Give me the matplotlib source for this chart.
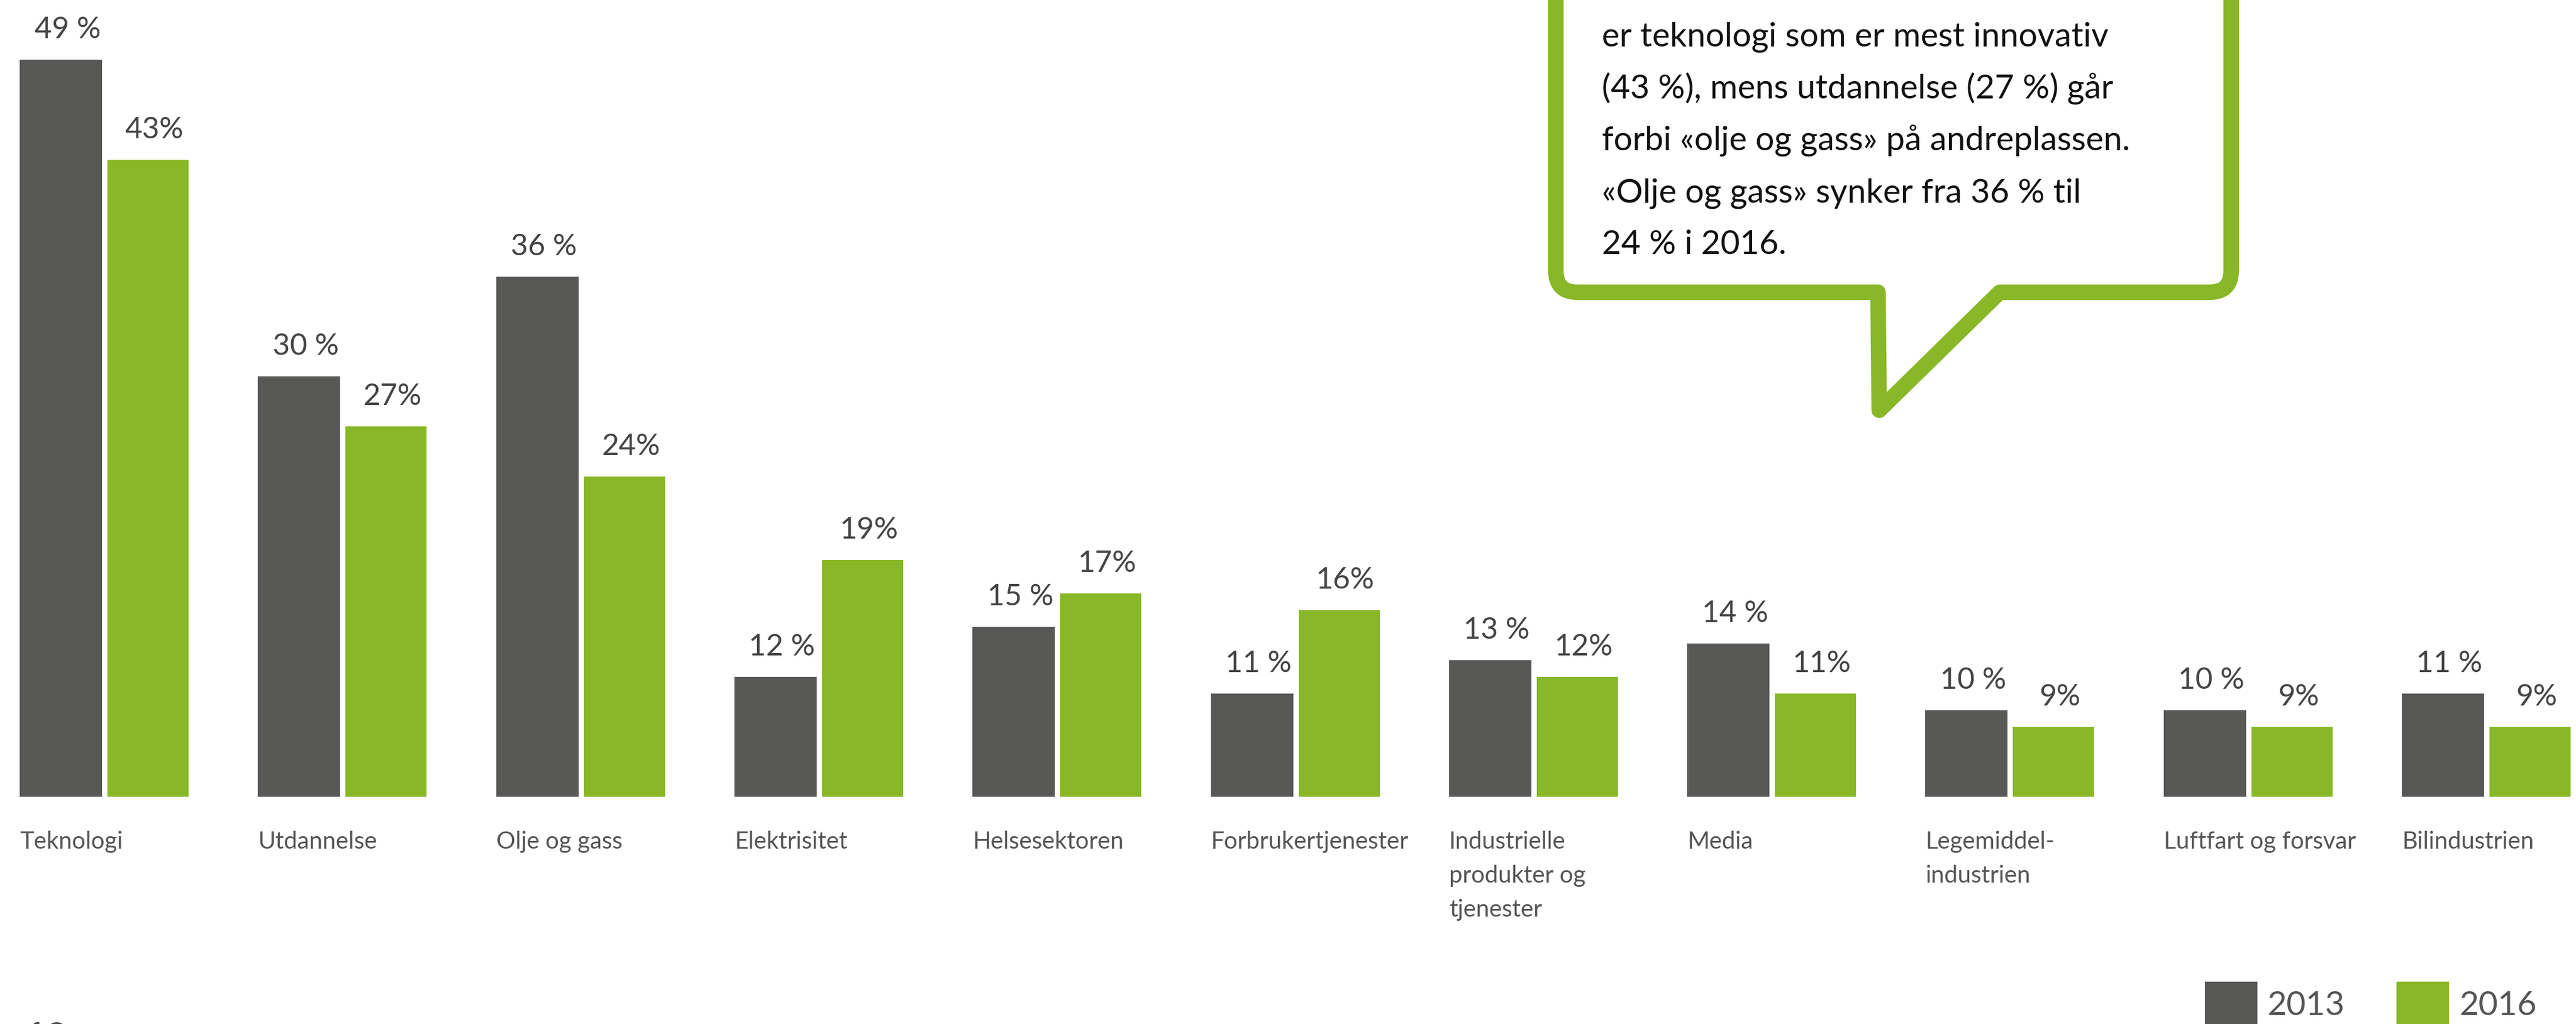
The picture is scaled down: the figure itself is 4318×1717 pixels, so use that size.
import matplotlib
matplotlib.use("Agg")
import matplotlib.pyplot as plt
import numpy as np
from matplotlib.path import Path
from matplotlib.patches import PathPatch
from matplotlib.transforms import offset_copy

# ---------------- data ----------------
categories = ["Teknologi", "Utdannelse", "Olje og gass", "Elektrisitet", "Helsesektoren",
              "Forbrukertjenester", "Industrielle\nprodukter og\ntjenester", "Media",
              "Legemiddel-\nindustrien", "Luftfart og forsvar", "Bilindustrien"]
values_2013 = [49, 30, 36, 12, 15, 11, 13, 14, 10, 10, 11]
values_2016 = [43, 27, 24, 19, 17, 16, 12, 11, 9, 9, 9]
series_labels = ["2013", "2016"]
callout_lines = [
    "er teknologi som er mest innovativ",
    "(43 %), mens utdannelse (27 %) går",
    "forbi «olje og gass» på andreplassen.",
    "«Olje og gass» synker fra 36 % til",
    "24 % i 2016.",
]
page_number = "12"

# ---------------- style ----------------
W, H = 4318, 1717
DPI = 100
PT = 72.0 / DPI          # points per pixel
DARK = "#585856"
GREEN = "#88B828"
LABEL_C = "#444444"
CAT_C = "#555555"

plt.rcParams["font.family"] = ["Lato", "DejaVu Sans"]
plt.rcParams["font.weight"] = "normal"

fig = plt.figure(figsize=(W / DPI, H / DPI), dpi=DPI)
fig.patch.set_facecolor("white")

base_px = 1336
px_per_unit = 27.98
y_floor = 4.82
ax = fig.add_axes([0, (H - base_px) / H, 1, base_px / H])
ax.set_ylim(y_floor, y_floor + base_px / px_per_unit)

spacing = 399.3
x = np.arange(len(categories))
w1 = 138 / spacing
w2 = 136 / spacing
off2 = 146 / spacing
ax.set_xlim(-102 / spacing, (W - 102) / spacing)

b1 = ax.bar(x, values_2013, width=w1, color=DARK, label=series_labels[0], zorder=2)
b2 = ax.bar(x + off2, values_2016, width=w2, color=GREEN, label=series_labels[1], zorder=2)

for s in ax.spines.values():
    s.set_visible(False)
ax.set_yticks([])
ax.set_facecolor("none")

ax.set_xticks(x - w1 / 2)
ax.set_xticklabels(categories, ha="left", fontsize=40 * PT, color=CAT_C)
for lab in ax.get_xticklabels():
    lab.set_linespacing(1.66)
ax.tick_params(axis="x", length=0, pad=57 * PT)

trans = offset_copy(ax.transData, fig=fig, x=11, y=36, units="dots")
for xi, v in zip(x, values_2013):
    ax.text(xi, v, f"{v} %", transform=trans, ha="center", va="baseline",
            fontsize=50 * PT, color=LABEL_C)
for xi, v in zip(x + off2, values_2016):
    ax.text(xi, v, f"{v}%", transform=trans, ha="center", va="baseline",
            fontsize=50 * PT, color=LABEL_C)

# ---------------- overlay (callout, page number) ----------------
ov = fig.add_axes([0, 0, 1, 1], zorder=5)
ov.set_xlim(0, W)
ov.set_ylim(H, 0)
ov.axis("off")
ov.patch.set_alpha(0)

L, R, B, r = 2608, 3740, 490, 36
pl, tipx, tipy, pr = 3148, 3150, 688, 3352
verts = [(L, -200), (L, B - r), (L, B), (L + r, B), (pl, B), (tipx, tipy), (pr, B),
         (R - r, B), (R, B), (R, B - r), (R, -200)]
codes = [Path.MOVETO, Path.LINETO, Path.CURVE3, Path.CURVE3, Path.LINETO, Path.LINETO,
         Path.LINETO, Path.LINETO, Path.CURVE3, Path.CURVE3, Path.LINETO]
ov.add_patch(PathPatch(Path(verts, codes), facecolor="white", edgecolor=GREEN,
                       linewidth=26 * PT, joinstyle="round", capstyle="butt"))

for i, line in enumerate(callout_lines):
    ov.text(2685, 78 + 87 * i, line, ha="left", va="baseline",
            fontsize=56 * PT, color="#111111")

ov.text(42, 1712, page_number, ha="left", va="top", fontsize=62 * PT,
        color="#4d4d4d", fontweight="bold")

# ---------------- legend ----------------
fs_leg = 56
fig.legend(handles=[b1, b2], labels=series_labels, ncol=2, loc="center left",
           bbox_to_anchor=(3696 / W, 1 - 1684 / H), frameon=False, borderpad=0,
           borderaxespad=0, handlelength=88 / fs_leg, handleheight=96 / fs_leg,
           handletextpad=0.3, columnspacing=1.55,
           prop={"size": fs_leg * PT, "weight": "normal"}, labelcolor=CAT_C)

fig.savefig("out.png", dpi=DPI, facecolor="white")
